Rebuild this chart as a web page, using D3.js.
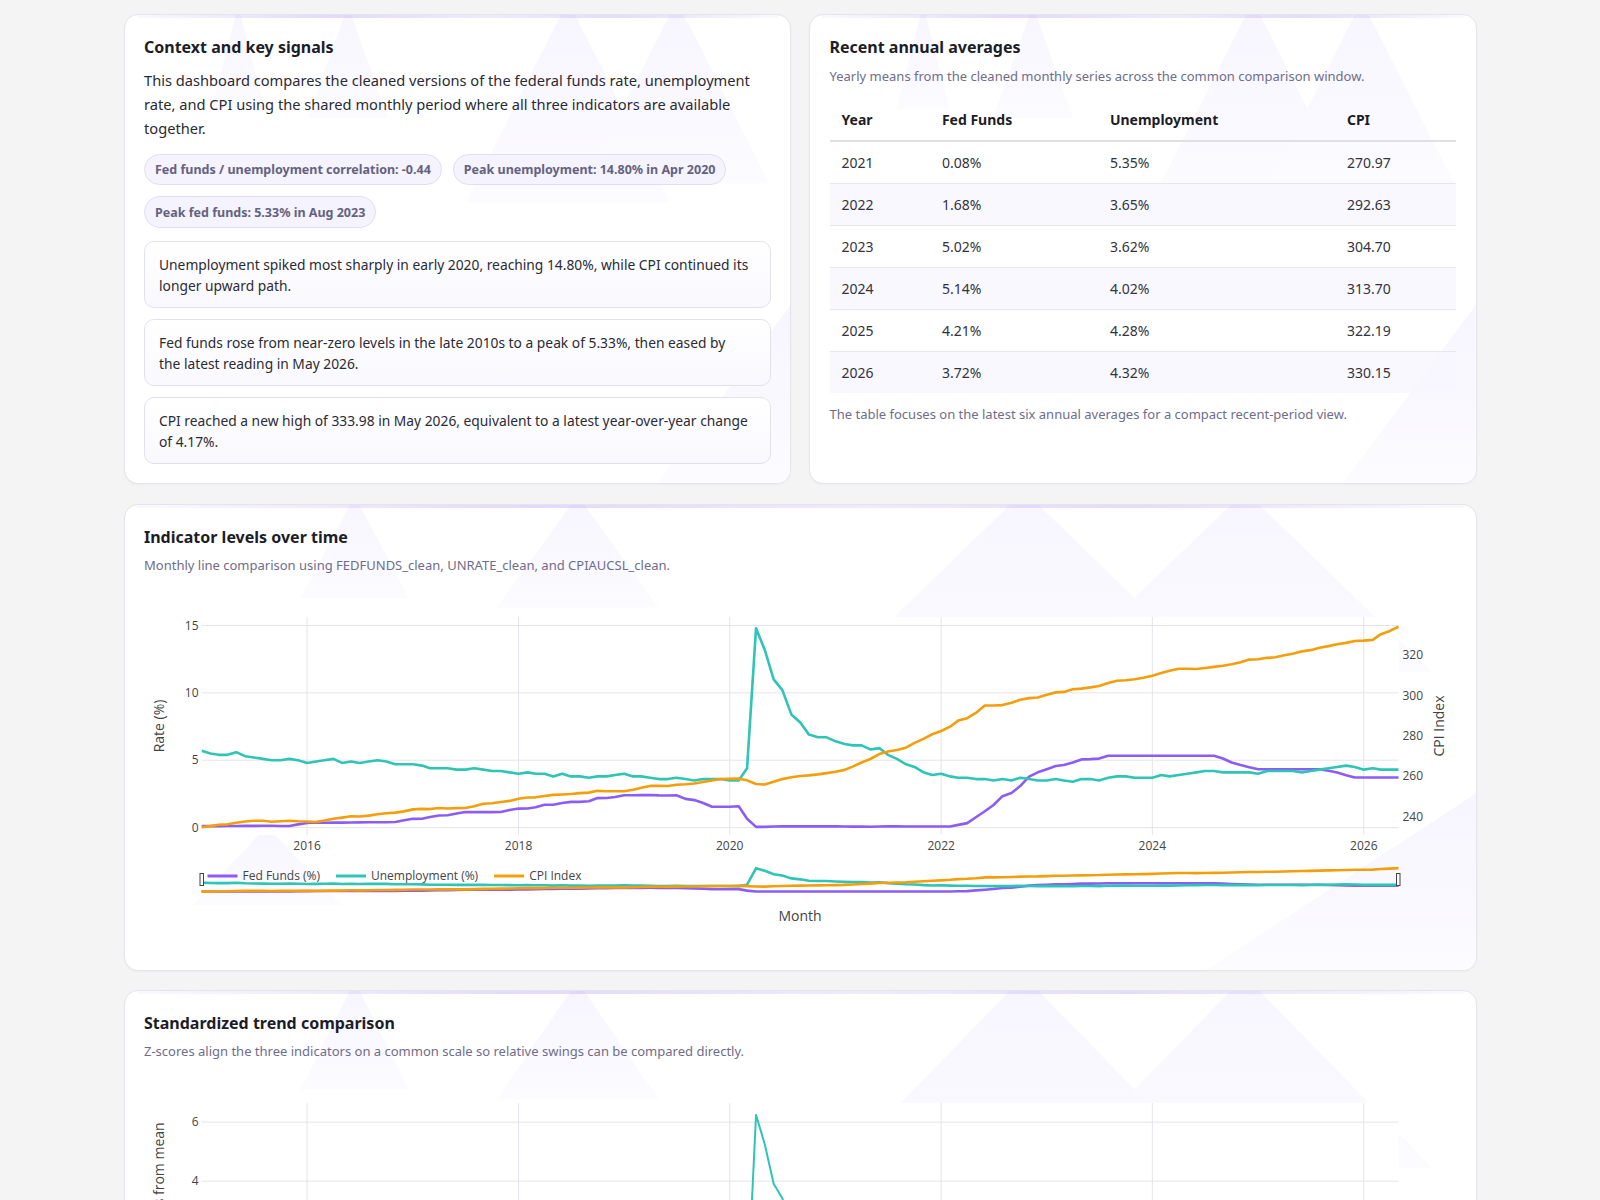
<!DOCTYPE html>
<html>
<head>
<meta charset="utf-8">
<title>Rates, unemployment and CPI</title>
<script src="https://cdn.jsdelivr.net/npm/d3@7"></script>
<style>
  html, body { margin: 0; padding: 0; background: #f4f4f5; }
  body { font-family: "Noto Sans", "Open Sans", sans-serif; color: #2b2b33; }
  .wrap { width: 1353px; margin: 14px auto 40px; }
  .row { display: flex; gap: 18px; }
  .card { position: relative; background: #fff; border: 1px solid #e4e4ea; border-radius: 14px;
          box-sizing: border-box; overflow: hidden; box-shadow: 0 1px 2px rgba(20,20,40,0.03); }
  .card::before { content: ""; position: absolute; left: 12px; right: 12px; top: 0; height: 3px; z-index: 3;
          background: linear-gradient(90deg, rgba(167,139,250,0.06), rgba(167,139,250,0.32) 30%, rgba(167,139,250,0.18) 55%, rgba(167,139,250,0.3) 75%, rgba(167,139,250,0.05)); }
  .decor { position: absolute; left: 0; top: 0; width: 100%; height: 100%; z-index: 0; }
  .inner { position: relative; z-index: 1; padding: 21px 19.5px; }
  h2 { margin: 0; font-size: 16px; line-height: 22px; font-weight: 700; color: #1d1d27; }
  .lead { margin: 9.7px 0 0; font-size: 14.65px; line-height: 24px; color: #2b2b33; }
  .sub { margin: 9.4px 0 0; font-size: 13px; line-height: 18px; color: #6f6d8a; }
  .pills { display: flex; flex-wrap: wrap; gap: 11.4px 11px; margin-top: 14px; }
  .pill { display: inline-flex; align-items: center; height: 31.3px; box-sizing: border-box; padding: 0 10px;
          border: 1px solid #e2ddf3; border-radius: 16px; background: #f5f3fd; color: #64627f;
          font-size: 12.5px; font-weight: 700; }
  .box { margin-top: 11px; border: 1px solid #e3e0ee; border-radius: 10px; padding: 12px 14px 11px 14px;
         background: linear-gradient(180deg, #ffffff, #f9f8fe); font-size: 13.8px; line-height: 21px; color: #2b2b33; }
  .box:first-of-type { margin-top: 13.3px; }
  table { border-collapse: collapse; width: 626.4px; margin-top: 13.3px; table-layout: fixed; font-size: 14px; }
  th { text-align: left; font-weight: 700; color: #1d1d27; padding: 10.3px 12px; line-height: 21px; border-bottom: 2px solid #dfdfe7; }
  td { padding: 10.3px 12px; line-height: 20.4px; color: #33333d; border-bottom: 1px solid #e6e6ee; }
  tbody tr:nth-child(even) td { background: rgba(248,246,255,0.8); }
  tbody tr:last-child td { border-bottom: none; }
  .note { margin: 11.6px 0 0; font-size: 13px; line-height: 18px; color: #6f6d8a; }
  svg.plot { position: absolute; left: -1px; top: -1px; z-index: 1; }
  .chart .inner { z-index: 2; pointer-events: none; }
</style>
</head>
<body>
<div class="wrap">
  <div class="row">
    <div class="card half" id="context" style="width:667.5px;height:470.4px">
      <div class="inner">
        <h2>Context and key signals</h2>
        <p class="lead">This dashboard compares the cleaned versions of the federal funds rate, unemployment rate, and CPI using the shared monthly period where all three indicators are available together.</p>
        <div class="pills"></div>
        <div class="boxes"></div>
      </div>
    </div>
    <div class="card half" id="annual" style="width:667.5px;height:470.4px">
      <div class="inner">
        <h2>Recent annual averages</h2>
        <p class="sub">Yearly means from the cleaned monthly series across the common comparison window.</p>
        <table>
          <colgroup><col style="width:100.4px"><col style="width:168px"><col style="width:237px"><col style="width:121px"></colgroup>
          <thead><tr></tr></thead>
          <tbody></tbody>
        </table>
        <p class="note">The table focuses on the latest six annual averages for a compact recent-period view.</p>
      </div>
    </div>
  </div>
  <div class="card chart" id="levels" style="margin-top:19.3px;height:467.4px">
    <div class="inner">
      <h2>Indicator levels over time</h2>
      <p class="sub" style="margin-top:8.3px">Monthly line comparison using FEDFUNDS_clean, UNRATE_clean, and CPIAUCSL_clean.</p>
    </div>
  </div>
  <div class="card chart" id="zscore" style="margin-top:18.6px">
    <div class="inner">
      <h2>Standardized trend comparison</h2>
      <p class="sub" style="margin-top:8.3px">Z-scores align the three indicators on a common scale so relative swings can be compared directly.</p>
    </div>
  </div>
</div>

<script>
// monthly series, Jan 2015 .. May 2026
var START_MONTH = new Date(2015, 0, 1);

var fedFunds = [
  0.11,0.11,0.11,0.12,0.12,0.13,0.13,0.14,0.14,0.12,0.12,0.24,
  0.34,0.38,0.36,0.37,0.37,0.38,0.39,0.40,0.40,0.40,0.41,0.54,
  0.65,0.66,0.79,0.90,0.91,1.04,1.15,1.16,1.15,1.15,1.16,1.30,
  1.41,1.42,1.51,1.69,1.70,1.82,1.91,1.91,1.95,2.19,2.20,2.27,
  2.40,2.40,2.41,2.42,2.39,2.38,2.40,2.13,2.04,1.83,1.55,1.55,
  1.55,1.58,0.65,0.05,0.05,0.08,0.09,0.10,0.09,0.09,0.09,0.09,
  0.09,0.08,0.07,0.07,0.06,0.08,0.10,0.09,0.08,0.08,0.08,0.08,
  0.08,0.08,0.20,0.33,0.77,1.21,1.68,2.33,2.56,3.08,3.78,4.10,
  4.33,4.57,4.65,4.83,5.06,5.08,5.12,5.33,5.33,5.33,5.33,5.33,
  5.33,5.33,5.33,5.33,5.33,5.33,5.33,5.33,5.13,4.83,4.64,4.48,
  4.33,4.33,4.33,4.33,4.33,4.33,4.33,4.33,4.22,4.09,3.88,3.72,
  3.72,3.72,3.72,3.72,3.72
];

var unemployment = [
  5.7,5.5,5.4,5.4,5.6,5.3,5.2,5.1,5.0,5.0,5.1,5.0,
  4.8,4.9,5.0,5.1,4.8,4.9,4.8,4.9,5.0,4.9,4.7,4.7,
  4.7,4.6,4.4,4.4,4.4,4.3,4.3,4.4,4.3,4.2,4.2,4.1,
  4.0,4.1,4.0,4.0,3.8,4.0,3.8,3.8,3.7,3.8,3.8,3.9,
  4.0,3.8,3.8,3.7,3.6,3.6,3.7,3.6,3.5,3.6,3.6,3.6,
  3.5,3.5,4.4,14.8,13.2,11.0,10.2,8.4,7.8,6.9,6.7,6.7,
  6.4,6.2,6.1,6.1,5.8,5.9,5.4,5.1,4.7,4.5,4.1,3.9,
  4.0,3.8,3.7,3.7,3.6,3.6,3.5,3.6,3.5,3.7,3.6,3.5,
  3.5,3.6,3.5,3.4,3.6,3.6,3.5,3.7,3.8,3.8,3.7,3.7,
  3.7,3.9,3.8,3.9,4.0,4.1,4.2,4.2,4.1,4.1,4.1,4.1,
  4.0,4.2,4.2,4.2,4.2,4.1,4.2,4.3,4.4,4.5,4.6,4.5,
  4.3,4.4,4.3,4.3,4.3
];

var cpi = [
  234.75,235.34,235.98,236.22,237.00,237.66,238.03,238.03,237.50,237.73,238.02,237.76,
  237.65,237.34,238.08,238.99,239.56,240.22,240.10,240.55,241.18,241.74,242.03,242.64,
  243.62,243.87,243.77,244.27,244.07,244.22,244.28,245.21,246.44,246.63,247.28,247.81,
  248.86,249.53,249.58,250.23,250.79,251.02,251.21,251.66,251.91,252.80,252.59,252.61,
  252.56,253.32,254.28,255.23,255.30,255.21,255.80,256.04,256.43,257.16,257.88,258.63,
  258.69,258.82,257.99,256.19,255.94,257.28,258.60,259.51,260.15,260.46,260.93,261.56,
  262.23,263.16,264.79,266.83,268.55,270.98,272.27,273.01,274.14,276.50,278.50,280.80,
  282.39,284.54,287.55,288.76,291.36,295.00,294.98,295.21,296.34,297.86,298.65,299.00,
  300.36,301.51,301.74,303.03,303.37,304.00,304.63,306.19,307.29,307.53,308.02,308.74,
  309.69,311.05,312.23,313.21,313.23,313.05,313.53,314.12,314.69,315.45,316.44,317.72,
  317.90,318.60,318.90,319.90,320.61,321.80,322.40,323.60,324.40,325.30,326.00,326.90,
  327.10,327.50,330.30,331.90,333.98
];

var seriesNames = ["Fed Funds (%)", "Unemployment (%)", "CPI Index"];
var seriesColors = ["#8b5cf6", "#2ec4b6", "#f59e0b"];

var rateTicks = [0, 5, 10, 15];
var cpiTicks = [240, 260, 280, 300, 320];
var zTicks = [-2, 0, 2, 4, 6];

var annualYears = [2021, 2022, 2023, 2024, 2025, 2026];
var annualFed = [0.08, 1.68, 5.02, 5.14, 4.21, 3.72];
var annualUnemp = [5.35, 3.65, 3.62, 4.02, 4.28, 4.32];
var annualCpi = [270.97, 292.63, 304.70, 313.70, 322.19, 330.15];
var tableHeaders = ["Year", "Fed Funds", "Unemployment", "CPI"];

var pillTexts = [
  "Fed funds / unemployment correlation: -0.44",
  "Peak unemployment: 14.80% in Apr 2020",
  "Peak fed funds: 5.33% in Aug 2023"
];
var insightTexts = [
  "Unemployment spiked most sharply in early 2020, reaching 14.80%, while CPI continued its longer upward path.",
  "Fed funds rose from near-zero levels in the late 2010s to a peak of 5.33%, then eased by the\u00a0latest reading in May 2026.",
  "CPI reached a new high of 333.98 in May 2026, equivalent to a latest year-over-year change of 4.17%."
];

var months = d3.range(fedFunds.length).map(function(i){ return d3.timeMonth.offset(START_MONTH, i); });

// ---- decorative triangles, normalised to card size
var decorTris = [
  [[0.6656,-0.03],[0.5126,0.40],[0.8186,0.40]],
  [[0.829,-0.03],[0.69,0.36],[0.968,0.36]],
  [[0.17,-0.02],[0.13,0.20],[0.21,0.20]],
  [[0.335,-0.02],[0.275,0.22],[0.395,0.22]],
  [[1.0,0.62],[0.80,1.0],[1.0,1.0]]
];
var wideOnlyTris = [
  [[0.105,0.69],[0.05,0.86],[0.16,0.86]]
];

d3.selectAll(".card").each(function(i){
  var card = d3.select(this);
  var tris = card.classed("half") ? decorTris : decorTris.concat(wideOnlyTris);
  var s = card.insert("svg", ":first-child")
    .attr("class", "decor").attr("viewBox", "0 0 1 1").attr("preserveAspectRatio", "none");
  var grad = s.append("defs").append("linearGradient").attr("id", "fade" + i)
    .attr("x1", 0).attr("y1", 0).attr("x2", 0).attr("y2", 1);
  grad.append("stop").attr("offset", "0").attr("stop-color", "#f7f5ff");
  grad.append("stop").attr("offset", "1").attr("stop-color", "#fcfbff");
  s.selectAll("polygon").data(tris).enter().append("polygon")
    .attr("points", function(d){ return d.map(function(p){ return p.join(","); }).join(" "); })
    .attr("fill", "url(#fade" + i + ")");
});

// ---- context card
d3.select(".pills").selectAll(".pill").data(pillTexts).enter()
  .append("span").attr("class", "pill").text(function(d){ return d; });
d3.select(".boxes").selectAll(".box").data(insightTexts).enter()
  .append("div").attr("class", "box").text(function(d){ return d; });

// ---- annual table
d3.select("thead tr").selectAll("th").data(tableHeaders).enter().append("th").text(function(d){ return d; });
var rows = d3.select("tbody").selectAll("tr").data(annualYears).enter().append("tr");
rows.selectAll("td").data(function(d, i){
  return [String(d), annualFed[i].toFixed(2) + "%", annualUnemp[i].toFixed(2) + "%", annualCpi[i].toFixed(2)];
}).enter().append("td").text(function(d){ return d; });

// ---- charts
function drawLineChart(cardId, cfg) {
  var card = d3.select(cardId);
  var W = 1353;
  var L = 77.5, R = 1274.5, T = 113;
  var pxPerUnit = cfg.pxPerUnit;
  var B = T + (cfg.leftDomain[1] - cfg.leftDomain[0]) * pxPerUnit;
  var H = B + 136;
  if (cfg.setHeight) card.style("height", H + "px");

  var svg = card.append("svg").attr("class", "plot").attr("width", W).attr("height", H)
    .style("font-family", "'Open Sans', 'Noto Sans', sans-serif");

  var x = d3.scaleTime().domain([months[0], months[months.length - 1]]).range([L, R]);
  var yL = d3.scaleLinear().domain(cfg.leftDomain).range([B, T]);
  var yR = cfg.rightDomain ? d3.scaleLinear().domain(cfg.rightDomain).range([B, T]) : null;

  svg.append("rect").attr("x", L).attr("y", T).attr("width", R - L).attr("height", B - T).attr("fill", "#fff");

  var xTicks = d3.timeYear.every(2).range(new Date(2016, 0, 1), new Date(2026, 1, 1));
  svg.append("g").selectAll("line").data(xTicks).enter().append("line")
    .attr("x1", function(d){ return x(d); }).attr("x2", function(d){ return x(d); })
    .attr("y1", T).attr("y2", B).attr("stroke", "#e4e4ec").attr("stroke-width", 1);
  svg.append("g").selectAll("line").data(cfg.leftTicks).enter().append("line")
    .attr("x1", L).attr("x2", R)
    .attr("y1", function(d){ return yL(d); }).attr("y2", function(d){ return yL(d); })
    .attr("stroke", "#e4e4ec").attr("stroke-width", 1);

  // tick labels
  svg.append("g").selectAll("text").data(xTicks).enter().append("text")
    .attr("x", function(d){ return x(d); }).attr("y", B + 11).attr("dy", "0.35em")
    .attr("text-anchor", "middle").attr("font-size", 12).attr("fill", "#444")
    .text(d3.timeFormat("%Y"));
  svg.append("g").selectAll("text").data(cfg.leftTicks).enter().append("text")
    .attr("x", L - 3).attr("y", function(d){ return yL(d); }).attr("dy", "0.35em")
    .attr("text-anchor", "end").attr("font-size", 12).attr("fill", "#444")
    .text(function(d){ return d; });
  if (yR) {
    svg.append("g").selectAll("text").data(cfg.rightTicks).enter().append("text")
      .attr("x", R + 4).attr("y", function(d){ return yR(d); }).attr("dy", "0.35em")
      .attr("text-anchor", "start").attr("font-size", 12).attr("fill", "#444")
      .text(function(d){ return d; });
  }

  // axis titles
  var midY = (T + B) / 2;
  svg.append("text").attr("transform", "translate(35.5," + midY + ") rotate(-90)")
    .attr("text-anchor", "middle").attr("dy", "0.35em").attr("font-size", 14).attr("fill", "#444")
    .text(cfg.leftTitle);
  if (cfg.rightTitle) {
    svg.append("text").attr("transform", "translate(1315.5," + midY + ") rotate(-90)")
      .attr("text-anchor", "middle").attr("dy", "0.35em").attr("font-size", 14).attr("fill", "#444")
      .text(cfg.rightTitle);
  }
  svg.append("text").attr("x", (L + R) / 2).attr("y", B + 81).attr("dy", "0.35em")
    .attr("text-anchor", "middle").attr("font-size", 14).attr("fill", "#444").text("Month");

  // main lines
  var clip = cardId.slice(1) + "-clip";
  svg.append("clipPath").attr("id", clip).append("rect")
    .attr("x", L).attr("y", T - 2).attr("width", R - L + 2).attr("height", B - T + 4);
  var lines = svg.append("g").attr("clip-path", "url(#" + clip + ")");
  cfg.series.forEach(function(s){
    var yS = s.right ? yR : yL;
    lines.append("path").datum(s.values)
      .attr("fill", "none").attr("stroke", s.color).attr("stroke-width", cfg.lineWidth)
      .attr("stroke-linejoin", "round")
      .attr("d", d3.line().x(function(d, i){ return x(months[i]); }).y(function(d){ return yS(d); }));
  });

  // range slider (overview of the full range)
  var sTop = B + 32, sBot = B + 57.5;
  var slider = svg.append("g");
  cfg.series.forEach(function(s){
    var dom = s.right ? cfg.rightDomain : cfg.leftDomain;
    var yS = d3.scaleLinear().domain(dom).range([sBot, sTop]);
    slider.append("path").datum(s.values)
      .attr("fill", "none").attr("stroke", s.color).attr("stroke-width", cfg.lineWidth)
      .attr("d", d3.line().x(function(d, i){ return x(months[i]); }).y(function(d){ return yS(d); }));
  });
  [L - 1.5, R - 2].forEach(function(gx){
    slider.append("rect").attr("x", gx).attr("y", B + 38.5).attr("width", 3.5).attr("height", 12)
      .attr("fill", "#fff").attr("stroke", "#444").attr("stroke-width", 1);
  });

  // legend (horizontal, over the slider)
  var lg = svg.append("g");
  var lx = L + 1;
  cfg.series.forEach(function(s){
    var it = lg.append("g").attr("transform", "translate(" + lx + "," + (B + 41) + ")");
    it.append("line").attr("x1", 5).attr("x2", 35).attr("y1", 0).attr("y2", 0)
      .attr("stroke", s.color).attr("stroke-width", 3);
    var t = it.append("text").attr("x", 40).attr("dy", "0.35em").attr("font-size", 12).attr("fill", "#444").text(s.name);
    lx += 40 + t.node().getComputedTextLength() + 11;
  });
}

drawLineChart("#levels", {
  pxPerUnit: 13.473,
  leftDomain: [-0.55, 15.63],
  rightDomain: [230.95, 338.8],
  leftTicks: rateTicks,
  rightTicks: cpiTicks,
  leftTitle: "Rate (%)",
  rightTitle: "CPI Index",
  lineWidth: 2.6,
  series: [
    { name: seriesNames[0], color: seriesColors[0], values: fedFunds },
    { name: seriesNames[1], color: seriesColors[1], values: unemployment },
    { name: seriesNames[2], color: seriesColors[2], values: cpi, right: true }
  ]
});

function zScores(vals) {
  var m = d3.mean(vals), s = d3.deviation(vals);
  return vals.map(function(v){ return (v - m) / s; });
}
var zFed = zScores(fedFunds), zUnemp = zScores(unemployment), zCpi = zScores(cpi);
var zExt = d3.extent(zFed.concat(zUnemp, zCpi));
var zPad = (zExt[1] - zExt[0]) * 0.054;

drawLineChart("#zscore", {
  pxPerUnit: 29.5,
  setHeight: true,
  leftDomain: [zExt[0] - zPad, zExt[1] + zPad],
  leftTicks: zTicks,
  leftTitle: "Standard deviations from mean",
  lineWidth: 2,
  series: [
    { name: seriesNames[0], color: seriesColors[0], values: zFed },
    { name: seriesNames[1], color: seriesColors[1], values: zUnemp },
    { name: seriesNames[2], color: seriesColors[2], values: zCpi }
  ]
});
</script>
</body>
</html>
